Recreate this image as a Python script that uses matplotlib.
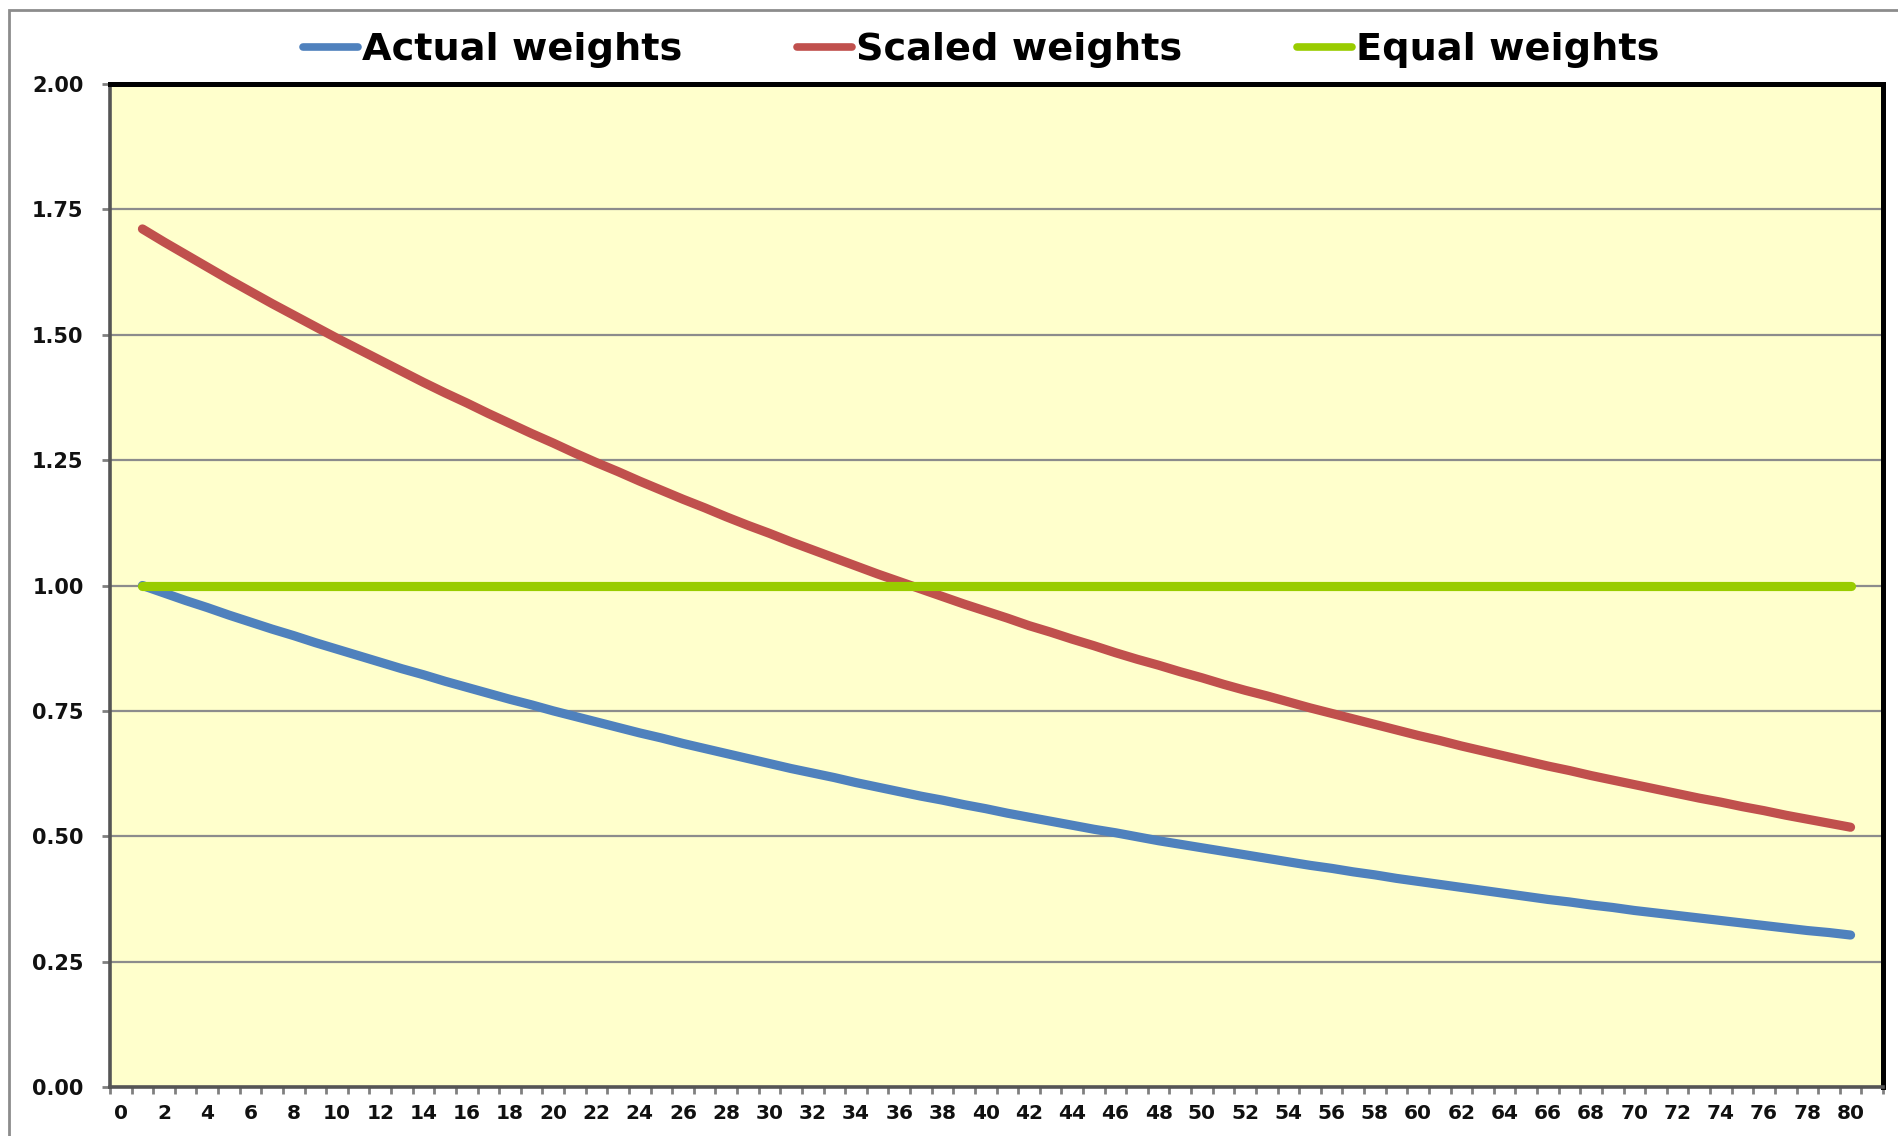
import matplotlib
matplotlib.use("Agg")
import matplotlib.pyplot as plt
from matplotlib.patches import Rectangle

periods = list(range(1, 81))
actual_weights = [
    1.000, 0.985, 0.970, 0.956, 0.941, 0.927, 0.913, 0.900, 0.886, 0.873,
    0.860, 0.847, 0.834, 0.822, 0.809, 0.797, 0.785, 0.773, 0.762, 0.750,
    0.739, 0.728, 0.717, 0.706, 0.696, 0.685, 0.675, 0.665, 0.655, 0.645,
    0.635, 0.626, 0.617, 0.607, 0.598, 0.589, 0.580, 0.572, 0.563, 0.555,
    0.546, 0.538, 0.530, 0.522, 0.514, 0.507, 0.499, 0.491, 0.484, 0.477,
    0.470, 0.463, 0.456, 0.449, 0.442, 0.436, 0.429, 0.423, 0.416, 0.410,
    0.404, 0.398, 0.392, 0.386, 0.380, 0.374, 0.369, 0.363, 0.358, 0.352,
    0.347, 0.342, 0.337, 0.332, 0.327, 0.322, 0.317, 0.312, 0.308, 0.303,
]
scaled_weights = [
    1.711, 1.685, 1.660, 1.635, 1.610, 1.586, 1.562, 1.539, 1.516, 1.493,
    1.471, 1.449, 1.427, 1.405, 1.384, 1.364, 1.343, 1.323, 1.303, 1.284,
    1.264, 1.245, 1.227, 1.208, 1.190, 1.172, 1.155, 1.137, 1.120, 1.104,
    1.087, 1.071, 1.055, 1.039, 1.023, 1.008, 0.993, 0.978, 0.963, 0.949,
    0.935, 0.920, 0.907, 0.893, 0.880, 0.866, 0.853, 0.841, 0.828, 0.816,
    0.803, 0.791, 0.780, 0.768, 0.756, 0.745, 0.734, 0.723, 0.712, 0.701,
    0.691, 0.680, 0.670, 0.660, 0.650, 0.640, 0.631, 0.621, 0.612, 0.603,
    0.594, 0.585, 0.576, 0.568, 0.559, 0.551, 0.542, 0.534, 0.526, 0.518,
]
equal_weights = [1.0] * 80

series_names = ["Actual weights", "Scaled weights", "Equal weights"]
series_colors = ["#4F81BD", "#C0504D", "#99CC00"]
x_tick_values = list(range(0, 81, 2))
y_tick_values = [0.00, 0.25, 0.50, 0.75, 1.00, 1.25, 1.50, 1.75, 2.00]

W, H = 1898, 1136
fig = plt.figure(figsize=(W / 100, H / 100), dpi=100)
fig.patch.set_facecolor("white")

left, right, top, bottom = 110, 1883, 84, 1087
ax = fig.add_axes([left / W, 1 - bottom / H, (right - left) / W, (bottom - top) / H])
ax.set_facecolor("#FFFFCC")

for vals, name, col in zip([actual_weights, scaled_weights, equal_weights], series_names, series_colors):
    ax.plot(periods, vals, color=col, lw=6.6, solid_capstyle="round", label=name)

ax.set_xlim(-0.5, 81.5)
ax.set_ylim(0, 2)
ax.set_yticks(y_tick_values)
ax.set_yticklabels([f"{v:.2f}" for v in y_tick_values])
ax.set_xticks(x_tick_values)
ax.set_xticklabels([str(v) for v in x_tick_values])
ax.set_xticks([i - 0.5 for i in range(0, 83)], minor=True)

ax.yaxis.grid(True, color="#8C8C8C", lw=1.6)
ax.set_axisbelow(True)

ax.tick_params(axis="y", which="major", length=6, width=2, color="#808080",
               labelsize=15, pad=13)
ax.tick_params(axis="x", which="major", length=0, labelsize=14.5, pad=12)
ax.tick_params(axis="x", which="minor", length=5, width=2, color="#808080")
for lab in ax.get_xticklabels() + ax.get_yticklabels():
    lab.set_fontweight("bold")
    lab.set_color("#111111")

for s in ["left", "bottom"]:
    ax.spines[s].set_color("#555555")
    ax.spines[s].set_linewidth(2.6)
for s in ["top", "right"]:
    ax.spines[s].set_color("black")
    ax.spines[s].set_linewidth(3.6)

# outer chart border (cropped at right/bottom)
fig.patches.append(Rectangle((9 / W, -0.1), 1.2, 1 - 10 / H + 0.1, transform=fig.transFigure,
                             fill=False, edgecolor="#8C8C8C", lw=2, clip_on=False))

leg = fig.legend(loc="center", bbox_to_anchor=(981 / W, 1 - 50 / H), ncol=3, frameon=False,
                 prop={"weight": "bold", "size": 27.5}, handlelength=1.45, handletextpad=0.1,
                 columnspacing=3.0)
for line in leg.get_lines():
    line.set_linewidth(5.5)
    line.set_solid_capstyle("round")

fig.savefig("out.png", dpi=100)
